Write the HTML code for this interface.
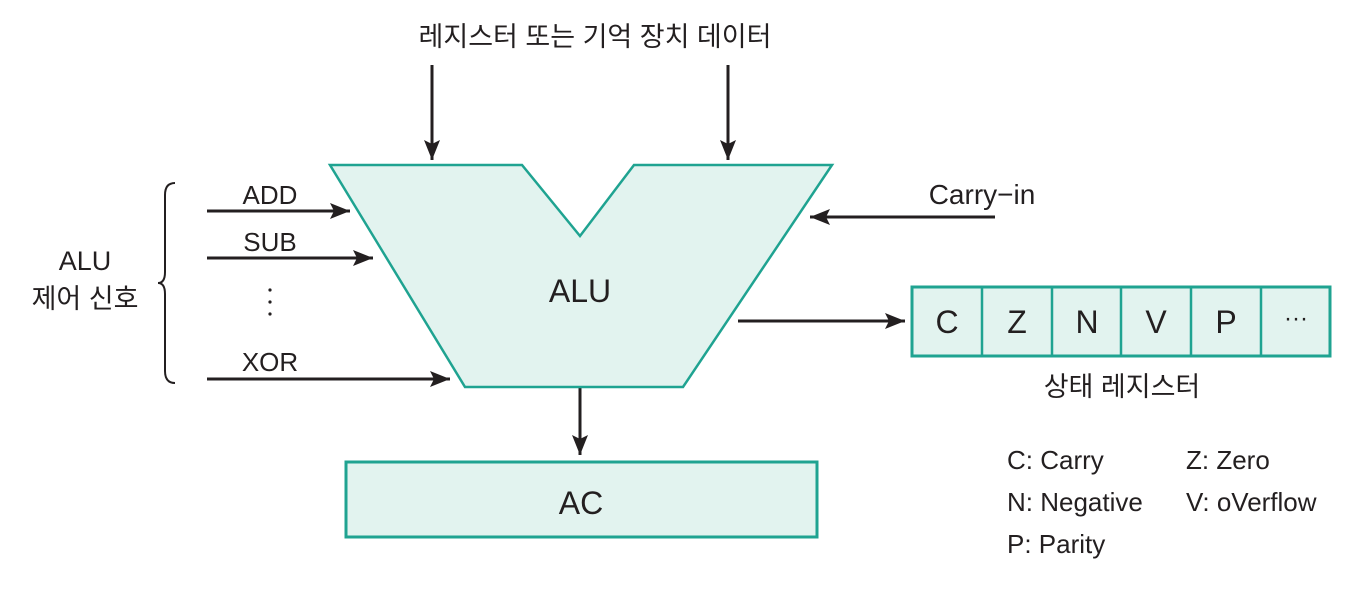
<!DOCTYPE html>
<html><head><meta charset="utf-8"><style>
body{margin:0;background:#fff;}
svg text{font-family:"Liberation Sans","Noto Sans CJK KR",sans-serif;fill:#231f20;}
</style></head><body>
<svg width="1372" height="598" viewBox="0 0 1372 598" xmlns="http://www.w3.org/2000/svg">
<defs><marker id="a" markerWidth="10" markerHeight="10" refX="9" refY="5" orient="auto" markerUnits="userSpaceOnUse"><path d="M0,0 L10,5 L0,10 z" fill="#231f20"/></marker>
<marker id="b" viewBox="0 0 20 16" markerWidth="22" markerHeight="16" refX="20" refY="8" orient="auto" markerUnits="userSpaceOnUse"><path d="M0,0 L20,8 L0,16 L4,8 z" fill="#231f20"/></marker></defs>
<text x="595" y="46" font-size="27" text-anchor="middle">레지스터 또는 기억 장치 데이터</text>
<g stroke="#231f20" stroke-width="3" fill="none">
<line x1="432" y1="65" x2="432" y2="160" marker-end="url(#b)"/>
<line x1="728" y1="65" x2="728" y2="160" marker-end="url(#b)"/>
<line x1="207" y1="211" x2="350" y2="211" marker-end="url(#b)"/>
<line x1="207" y1="258" x2="373" y2="258" marker-end="url(#b)"/>
<line x1="207" y1="379" x2="450" y2="379" marker-end="url(#b)"/>
<line x1="995" y1="217" x2="810" y2="217" marker-end="url(#b)"/>
<line x1="738" y1="321" x2="905" y2="321" marker-end="url(#b)"/>
<line x1="580" y1="388" x2="580" y2="455" marker-end="url(#b)"/>
</g>
<polygon points="330,165 522,165 580,236 634,165 832,165 683,387 465,387" fill="#e2f3ef" stroke="#1fa391" stroke-width="2.5"/>
<text x="580" y="302" font-size="32" text-anchor="middle">ALU</text>
<rect x="346" y="462" width="471" height="75" fill="#e2f3ef" stroke="#1fa391" stroke-width="3"/>
<text x="581" y="514" font-size="32" text-anchor="middle">AC</text>
<text x="270" y="204" font-size="26" text-anchor="middle">ADD</text>
<text x="270" y="251" font-size="26" text-anchor="middle">SUB</text>
<text x="270" y="371" font-size="26" text-anchor="middle">XOR</text>
<g fill="#231f20"><circle cx="270" cy="290" r="1.6"/><circle cx="270" cy="302" r="1.6"/><circle cx="270" cy="314" r="1.6"/></g>
<path d="M175,183 Q165,183 165,195 L165,272 Q165,283 158,283 Q165,283 165,294 L165,371 Q165,383 175,383" fill="none" stroke="#231f20" stroke-width="2"/>
<text x="85" y="270" font-size="27" text-anchor="middle">ALU</text>
<text x="85" y="308" font-size="27" text-anchor="middle">제어 신호</text>
<text x="982" y="204" font-size="28" text-anchor="middle">Carry−in</text>
<g fill="#e2f3ef" stroke="#1fa391" stroke-width="3">
<rect x="912" y="287" width="418" height="69"/>
</g>
<g stroke="#1fa391" stroke-width="2.5">
<line x1="982" y1="287" x2="982" y2="356"/><line x1="1052" y1="287" x2="1052" y2="356"/><line x1="1121" y1="287" x2="1121" y2="356"/><line x1="1191" y1="287" x2="1191" y2="356"/><line x1="1261" y1="287" x2="1261" y2="356"/>
</g>
<g font-size="32" text-anchor="middle">
<text x="947" y="333">C</text><text x="1017" y="333">Z</text><text x="1087" y="333">N</text><text x="1156" y="333">V</text><text x="1226" y="333">P</text><text x="1296" y="326" font-size="24">···</text>
</g>
<text x="1122" y="396" font-size="27" text-anchor="middle">상태 레지스터</text>
<g font-size="26">
<text x="1007" y="469">C: Carry</text><text x="1186" y="469">Z: Zero</text>
<text x="1007" y="511">N: Negative</text><text x="1186" y="511">V: oVerflow</text>
<text x="1007" y="553">P: Parity</text>
</g>
</svg>
</body></html>
